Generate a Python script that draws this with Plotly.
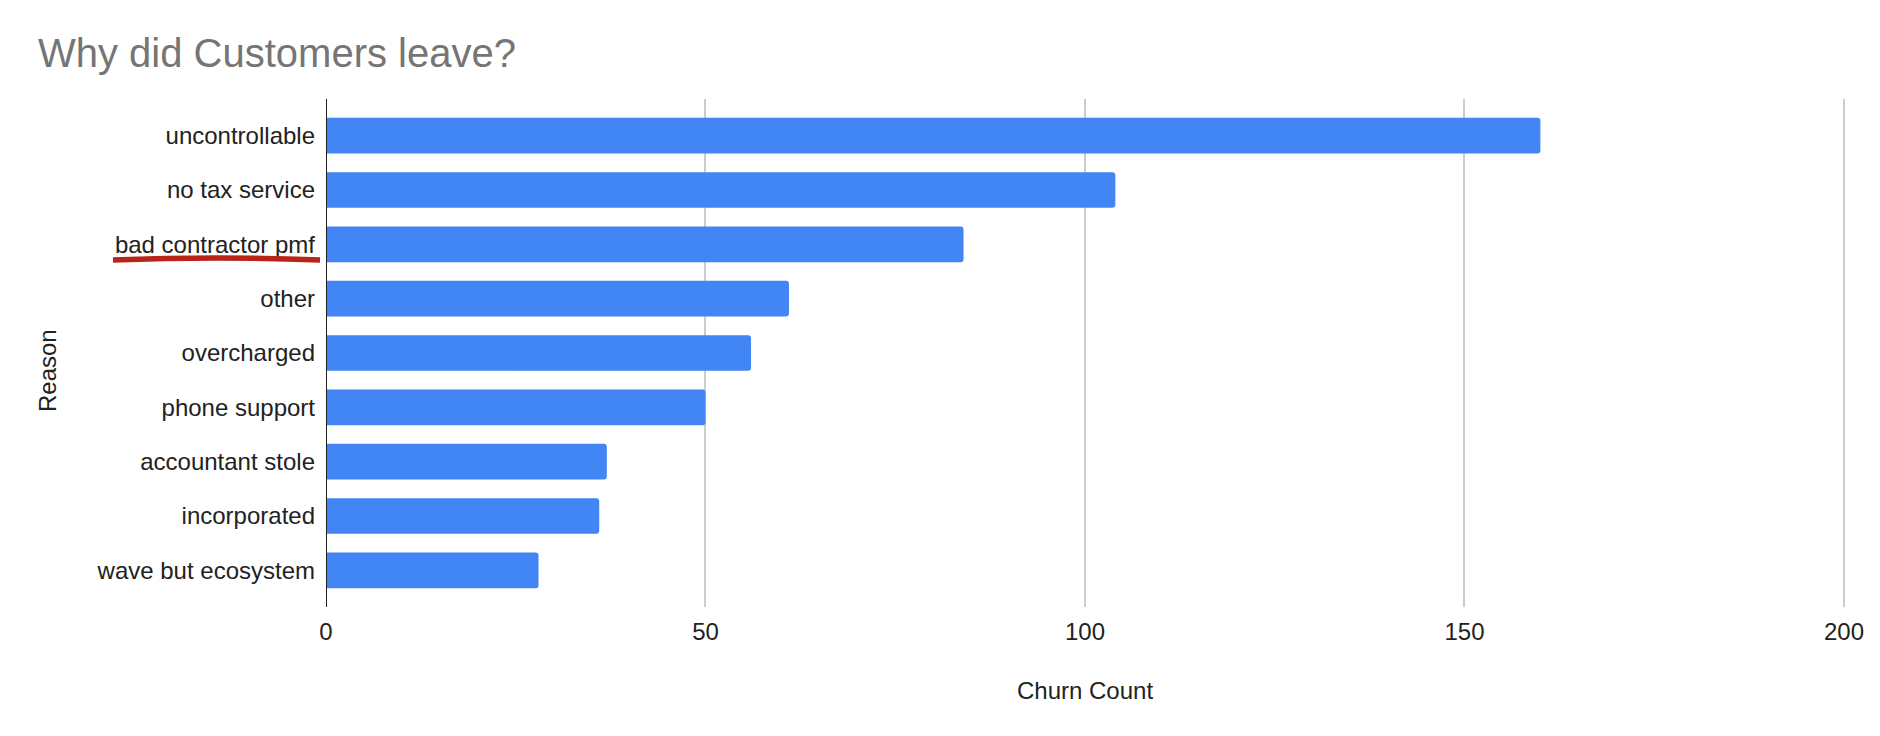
import plotly.graph_objects as go

# churn reasons, top to bottom as in the sheet chart
reasons = ['uncontrollable', 'no tax service', 'bad contractor pmf', 'other',
           'overcharged', 'phone support', 'accountant stole', 'incorporated',
           'wave but ecosystem']
churn_count = [160, 104, 84, 61, 56, 50, 37, 36, 28]
x_ticks = [0, 50, 100, 150, 200]

# page has an 8px body margin, so the figure is drawn 8px in from the corner
OFF = 8
W, H = 1880 - OFF, 736 - OFF
L, R, T, B = 326 - OFF, 33, 99 - OFF, 129
FONT = 'Arial, Liberation Sans, sans-serif'
TXT = 24


def px_to_paper(px, py):
    # pixel position on the page -> paper coords of the plot area
    return (px - OFF - L) / (W - L - R), (H - B - (py - OFF)) / (H - T - B)


fig = go.Figure()
fig.add_trace(go.Bar(
    x=churn_count,
    y=reasons,
    orientation='h',
    marker=dict(color='#4285F4', cornerradius=3, line=dict(width=0)),
    width=0.656,
    hoverinfo='x+y',
))

# red hand-drawn underline under "bad contractor pmf"
x0, y0 = px_to_paper(113, 260)
xm, ym = px_to_paper(217, 256)
x1, y1 = px_to_paper(320, 260)
fig.add_shape(type='path', xref='paper', yref='paper',
              path=f'M {x0},{y0} Q {xm},{ym} {x1},{y1}',
              line=dict(color='#B8241A', width=5.5))

fig.add_annotation(text='Churn Count', xref='paper', yref='paper',
                   x=px_to_paper(1085, 0)[0], y=px_to_paper(0, 690)[1],
                   xanchor='center', yanchor='middle',
                   showarrow=False, font=dict(family=FONT, size=TXT, color='#222222'))
fig.add_annotation(text='Reason', xref='paper', yref='paper', textangle=-90,
                   x=px_to_paper(48, 0)[0], y=px_to_paper(0, 371)[1],
                   xanchor='center', yanchor='middle',
                   showarrow=False, font=dict(family=FONT, size=TXT, color='#222222'))

fig.update_layout(
    width=W, height=H,
    margin=dict(l=L, r=R, t=T, b=B, autoexpand=False),
    paper_bgcolor='white', plot_bgcolor='white',
    title=dict(text='Why did Customers leave?', x=(38 - OFF) / W, xanchor='left', xref='container',
               y=1 - (53 - OFF) / H, yanchor='middle', yref='container',
               font=dict(family=FONT, size=40, color='#757575')),
    showlegend=False,
    font=dict(family=FONT, color='#222222'),
    xaxis=dict(range=[0, 200.4], tickvals=x_ticks, showgrid=True, gridcolor='#CCCCCC',
               gridwidth=1.5, zeroline=False, showline=False, ticks='',
               ticklabelstandoff=8, tickfont=dict(size=TXT, color='#222222'),
               automargin=False, fixedrange=True),
    yaxis=dict(type='category', range=[8.675, -0.675], showgrid=False, zeroline=False,
               showline=False, ticks='', ticklabelstandoff=10,
               tickfont=dict(size=TXT, color='#222222'), automargin=False, fixedrange=True),
)

# dark vertical baseline at 0
fig.add_shape(type='line', xref='x', yref='paper', x0=0, x1=0, y0=0, y1=1,
              line=dict(color='#222222', width=2), layer='above')

fig.write_html('out.html')
